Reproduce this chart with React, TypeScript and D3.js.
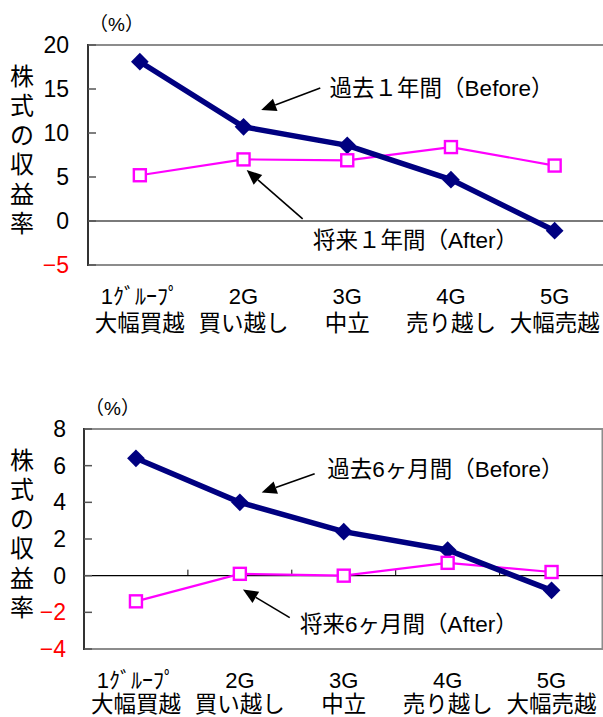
import React from "react";
import * as d3 from "d3";

// Categories (two-line labels)
const groupTop = ["1ｸﾞﾙｰﾌﾟ", "2G", "3G", "4G", "5G"];
const groupBottom = ["大幅買越", "買い越し", "中立", "売り越し", "大幅売越"];

// Returns (%) by group: 1-year window
const before1y = [18.1, 10.7, 8.6, 4.7, -1.1];
const after1y = [5.2, 7.0, 6.9, 8.4, 6.3];

// Returns (%) by group: 6-month window
const before6m = [6.4, 4.0, 2.4, 1.4, -0.8];
const after6m = [-1.4, 0.1, 0.0, 0.7, 0.2];

// Y-axis ticks
const ticks1y = [-5, 0, 5, 10, 15, 20];
const ticks6m = [-4, -2, 0, 2, 4, 6, 8];

const yTitle = ["株", "式", "の", "収", "益", "率"];

const FONT = "'Liberation Sans', 'Noto Sans CJK JP', sans-serif";
const NAVY = "#000080";
const MAGENTA = "#FF00FF";

type Ann = {
  text: string;
  tx: number; // category-index units
  ty: number; // value units
  from: [number, number];
  to: [number, number];
};

type PanelProps = {
  left: number;
  right: number;
  top: number;
  bottom: number;
  ticks: number[];
  before: number[];
  after: number[];
  beforeAnn: Ann;
  afterAnn: Ann;
  zeroTicks: boolean;
  zeroColor: string;
  zeroWidth: number;
  labelRight: number;
  showRightBorder: boolean;
  catGap: number;
};

function Panel(p: PanelProps) {
  const x = d3
    .scaleBand<number>()
    .domain(d3.range(groupTop.length))
    .range([p.left, p.right])
    .paddingInner(0)
    .paddingOuter(0);
  const bw = x.bandwidth();
  const cx = (i: number) => (x(i) as number) + bw / 2;
  const ix = (t: number) => p.left + (t + 0.5) * bw;
  const y = d3
    .scaleLinear()
    .domain([d3.min(p.ticks)!, d3.max(p.ticks)!])
    .range([p.bottom, p.top]);

  const line = d3
    .line<number>()
    .x((_, i) => cx(i))
    .y((d) => y(d));

  const diamond = d3.symbol().type(d3.symbolDiamond2).size(200)();
  const sq = 12;

  const arrow = (a: Ann, key: string) => {
    const x1 = ix(a.from[0]);
    const y1 = y(a.from[1]);
    const x2 = ix(a.to[0]);
    const y2 = y(a.to[1]);
    const ang = Math.atan2(y2 - y1, x2 - x1);
    const L = 15;
    const W = 6.5;
    const bx = x2 - L * Math.cos(ang);
    const by = y2 - L * Math.sin(ang);
    const px = -Math.sin(ang) * W;
    const py = Math.cos(ang) * W;
    return (
      <g key={key}>
        <line x1={x1} y1={y1} x2={bx} y2={by} stroke="#000" strokeWidth={1.6} />
        <polygon
          points={`${x2},${y2} ${bx + px},${by + py} ${bx - px},${by - py}`}
          fill="#000"
        />
      </g>
    );
  };

  const z = y(0);
  const midY = (p.top + p.bottom) / 2;

  return (
    <g fontFamily={FONT}>
      {/* plot frame */}
      <line x1={p.left} x2={p.right} y1={p.top} y2={p.top} stroke="#8c8c8c" strokeWidth={2} />
      <line x1={p.left} x2={p.right} y1={p.bottom} y2={p.bottom} stroke="#8c8c8c" strokeWidth={2} />
      {p.showRightBorder && (
        <line x1={p.right - 1} x2={p.right - 1} y1={p.top} y2={p.bottom} stroke="#8c8c8c" strokeWidth={2} />
      )}
      {/* zero line */}
      <line x1={p.left} x2={p.right} y1={z} y2={z} stroke={p.zeroColor} strokeWidth={p.zeroWidth} />
      {p.zeroTicks &&
        d3.range(1, groupTop.length).map((i) => (
          <line
            key={`zt${i}`}
            x1={x(i) as number}
            x2={x(i) as number}
            y1={z}
            y2={z - 6}
            stroke="#000"
            strokeWidth={1}
          />
        ))}
      {/* y axis */}
      <line x1={p.left} x2={p.left} y1={p.top - 1} y2={p.bottom + 1} stroke="#333" strokeWidth={2} />
      {p.ticks.map((t) => (
        <g key={`t${t}`}>
          <line x1={p.left} x2={p.left + 8} y1={y(t)} y2={y(t)} stroke="#555" strokeWidth={1.5} />
          <text
            x={p.labelRight}
            y={y(t)}
            textAnchor="end"
            dominantBaseline="central"
            fontSize={23}
            fill={t < 0 ? "#FF0000" : "#000"}
          >
            {t < 0 ? `−${Math.abs(t)}` : t}
          </text>
        </g>
      ))}
      <text x={p.left + 1} y={p.top - 21} fontSize={19} textAnchor="start" dominantBaseline="central" fill="#000">
        （%）
      </text>
      {/* vertical y title */}
      {yTitle.map((c, i) => (
        <text
          key={c + i}
          x={22}
          y={midY - 2.5 * 29.5 + i * 29.5 - 5}
          fontSize={24}
          textAnchor="middle"
          dominantBaseline="central"
          fill="#000"
        >
          {c}
        </text>
      ))}
      {/* category labels */}
      {groupTop.map((g, i) => (
        <g key={g}>
          <text x={cx(i)} y={p.bottom + 31} fontSize={22} textAnchor="middle" dominantBaseline="central" fill="#000">
            {g}
          </text>
          <text
            x={cx(i)}
            y={p.bottom + 31 + p.catGap}
            fontSize={22.5}
            textAnchor="middle"
            dominantBaseline="central"
            fill="#000"
          >
            {groupBottom[i]}
          </text>
        </g>
      ))}
      {/* series */}
      <path d={line(p.after) ?? ""} fill="none" stroke={MAGENTA} strokeWidth={2.2} />
      <path d={line(p.before) ?? ""} fill="none" stroke={NAVY} strokeWidth={5.5} />
      {p.before.map((v, i) => (
        <path key={`b${i}`} d={diamond ?? ""} transform={`translate(${cx(i)},${y(v)})`} fill={NAVY} />
      ))}
      {p.after.map((v, i) => (
        <rect
          key={`a${i}`}
          x={cx(i) - sq / 2}
          y={y(v) - sq / 2}
          width={sq}
          height={sq}
          fill="#fff"
          stroke={MAGENTA}
          strokeWidth={2.4}
        />
      ))}
      {/* annotations */}
      {arrow(p.beforeAnn, "ab")}
      {arrow(p.afterAnn, "aa")}
      {[p.beforeAnn, p.afterAnn].map((a, i) => (
        <text
          key={`l${i}`}
          x={ix(a.tx)}
          y={y(a.ty)}
          fontSize={22.5}
          textAnchor="start"
          dominantBaseline="central"
          fill="#000"
        >
          {a.text}
        </text>
      ))}
    </g>
  );
}

export default function App() {
  return (
    <svg
      width={603}
      height={717}
      style={{ position: "absolute", left: 0, top: 0, display: "block", background: "#fff" }}
    >
      <rect width={603} height={717} fill="#fff" />
      <Panel
        left={88}
        right={606.5}
        top={45}
        bottom={265}
        ticks={ticks1y}
        before={before1y}
        after={after1y}
        zeroTicks={false}
        zeroColor="#7a7a7a"
        zeroWidth={1.8}
        labelRight={69}
        showRightBorder={false}
        catGap={27}
        beforeAnn={{ text: "過去１年間（Before）", tx: 1.83, ty: 15.1, from: [1.74, 15.1], to: [1.17, 12.6] }}
        afterAnn={{ text: "将来１年間（After）", tx: 1.67, ty: -2.16, from: [1.57, 0.23], to: [1.03, 5.8] }}
      />
      <Panel
        left={84}
        right={603.5}
        top={429}
        bottom={649}
        ticks={ticks6m}
        before={before6m}
        after={after6m}
        zeroTicks={true}
        zeroColor="#000"
        zeroWidth={1.2}
        labelRight={66}
        showRightBorder={true}
        catGap={24}
        beforeAnn={{ text: "過去6ヶ月間（Before）", tx: 1.84, ty: 5.78, from: [1.72, 5.56], to: [1.21, 4.53] }}
        afterAnn={{ text: "将来6ヶ月間（After）", tx: 1.58, ty: -2.67, from: [1.48, -2.29], to: [1.03, -0.76] }}
      />
    </svg>
  );
}
